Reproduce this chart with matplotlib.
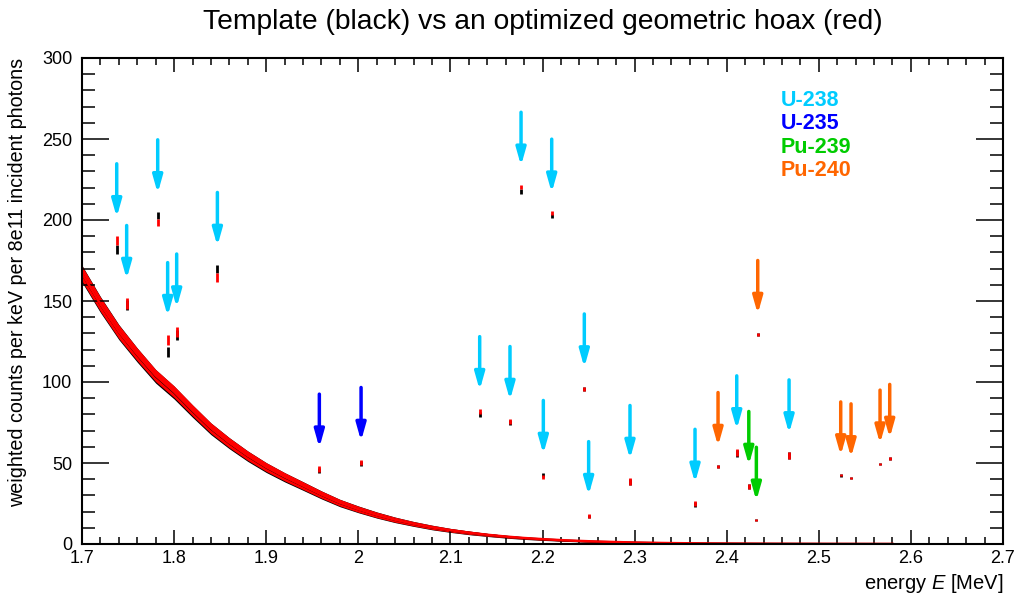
import numpy as np
import matplotlib
matplotlib.use('Agg')
import matplotlib.pyplot as plt
from matplotlib.ticker import MultipleLocator

plt.rcParams['font.family'] = ['Liberation Sans', 'DejaVu Sans']
plt.rcParams['mathtext.fontset'] = 'custom'
plt.rcParams['mathtext.rm'] = 'Liberation Sans'
plt.rcParams['mathtext.it'] = 'Liberation Sans:italic'

# continuum, every 20 keV
cont_E = [1.70, 1.72, 1.74, 1.76, 1.78, 1.80, 1.82, 1.84, 1.86, 1.88,
          1.90, 1.92, 1.94, 1.96, 1.98, 2.00, 2.02, 2.04, 2.06, 2.08,
          2.10, 2.12, 2.14, 2.16, 2.18, 2.20, 2.22, 2.24, 2.26, 2.28,
          2.30, 2.32, 2.34, 2.36, 2.38, 2.40, 2.42, 2.44, 2.46, 2.48,
          2.50, 2.52, 2.54, 2.56, 2.58]
hoax_cont = [167, 148, 131, 117, 104, 94, 82.5, 71.5, 62.5, 54.5,
             47.5, 41.5, 36, 30.5, 25.5, 21.5, 18, 15, 12.5, 10.3,
             8.5, 7, 5.7, 4.6, 3.7, 3.0, 2.4, 1.9, 1.5, 1.2,
             0.9, 0.7, 0.55, 0.42, 0.32, 0.25, 0.2, 0.15, 0.12, 0.1,
             0.08, 0.06, 0.05, 0.04, 0.03]
tmpl_cont = [166.8, 147.8, 130.8, 116.6, 103.5, 93.5, 82, 71.1, 62.2, 54.2,
             47.2, 41.2, 35.8, 30.3, 25.3, 21.4, 17.9, 14.9, 12.4, 10.2,
             8.4, 6.9, 5.6, 4.5, 3.6, 2.9, 2.3, 1.8, 1.4, 1.1,
             0.85, 0.65, 0.5, 0.4, 0.3, 0.24, 0.19, 0.15, 0.12, 0.1,
             0.08, 0.06, 0.05, 0.04, 0.03]
cont_err = [5.5, 5.2, 4.9, 4.6, 4.4, 4.2, 4.0, 3.8, 3.6, 3.4,
            3.2, 3.0, 2.8, 2.6, 2.4, 2.2, 2.0, 1.8, 1.6, 1.5,
            1.3, 1.2, 1.0, 0.9, 0.8, 0.7, 0.6, 0.5, 0.45, 0.4,
            0.35, 0.3, 0.25, 0.2, 0.2, 0.15, 0.15, 0.1, 0.1, 0.1,
            0.1, 0.1, 0.1, 0.1, 0.1]

# line bins: energy [MeV], template, hoax, error
peak_E = [1.7377, 1.7485, 1.7822, 1.7930, 1.8028, 1.8470, 1.9577, 2.0030,
          2.1318, 2.1647, 2.1767, 2.2009, 2.2100, 2.2454, 2.2501, 2.2950,
          2.3656, 2.3906, 2.4109, 2.4240, 2.4322, 2.4337, 2.4677, 2.5238,
          2.5350, 2.5665, 2.5770]
peak_tmpl = [182.0, 147.5, 203.0, 118.7, 129.0, 169.5, 45.5, 49.8,
             80.0, 75.0, 217.5, 42.5, 202.3, 95.5, 17.0, 38.3,
             24.5, 47.8, 56.0, 35.5, 14.9, 129.2, 54.5, 42.3,
             41.0, 49.4, 52.8]
peak_hoax = [187.3, 148.5, 198.7, 126.0, 131.0, 164.5, 46.3, 50.3,
             82.0, 75.5, 220.3, 41.5, 204.5, 95.7, 17.3, 38.5,
             24.8, 47.8, 56.4, 35.6, 14.9, 129.2, 54.7, 42.5,
             41.0, 49.4, 52.8]
peak_err = [2.7, 3.2, 2.2, 3.0, 3.0, 2.5, 1.7, 1.5,
            1.6, 1.5, 1.4, 1.3, 1.2, 1.3, 1.1, 2.0,
            1.6, 0.8, 2.0, 1.5, 0.6, 0.8, 2.0, 0.7,
            0.6, 0.6, 0.7]

# arrows: energy, tip height, isotope
arrow_E = [1.7377, 1.7485, 1.7822, 1.7930, 1.8028, 1.8470, 2.1318, 2.1647,
           2.1767, 2.2009, 2.2100, 2.2454, 2.2501, 2.2950, 2.3656, 2.4109,
           2.4677, 1.9577, 2.0030, 2.4240, 2.4322, 2.3906, 2.4337, 2.5238,
           2.5350, 2.5665, 2.5770]
arrow_tip = [201.7, 163.6, 216.5, 140.7, 146.0, 184.0, 95.0, 88.9,
             233.5, 55.6, 216.9, 109.0, 30.2, 52.5, 37.8, 70.8,
             68.3, 59.5, 63.6, 48.8, 26.7, 60.5, 142.0, 54.7,
             53.5, 62.0, 65.5]
arrow_iso = ['U-238'] * 17 + ['U-235'] * 2 + ['Pu-239'] * 2 + ['Pu-240'] * 6
arrow_len = 33

isotopes = ['U-238', 'U-235', 'Pu-239', 'Pu-240']
iso_colors = {'U-238': '#00ccff', 'U-235': '#0000ff',
              'Pu-239': '#00cc00', 'Pu-240': '#ff6600'}

fig = plt.figure(figsize=(10.2, 5.96), dpi=100)
ax = fig.add_axes([82/1020, 1 - 544/596, 921/1020, 486/596])

E = np.array(cont_E)
tc, hc, ce = np.array(tmpl_cont), np.array(hoax_cont), np.array(cont_err)

# template (black) under the hoax (red)
ax.fill_between(E, tc - ce*0.95, tc + ce*0.95, color='black', lw=0)
ax.plot(E, tc, color='black', lw=1.5)
ax.fill_between(E, hc - ce*0.85, hc + ce*0.85, color='red', lw=0)
ax.plot(E, hc, color='red', lw=1.8)

ax.errorbar(peak_E, peak_tmpl, yerr=peak_err, fmt='none', ecolor='black',
            elinewidth=2.0, capsize=0)
ax.errorbar(peak_E, peak_hoax, yerr=peak_err, fmt='none', ecolor='red',
            elinewidth=2.0, capsize=0)

for x, tip, iso in zip(arrow_E, arrow_tip, arrow_iso):
    ax.annotate('', xy=(x, tip), xytext=(x, tip + arrow_len),
                arrowprops=dict(arrowstyle='-|>,head_length=0.85,head_width=0.24',
                                lw=2.5, color=iso_colors[iso],
                                shrinkA=0, shrinkB=0, mutation_scale=12))

for i, iso in enumerate(isotopes):
    ax.text(0.759, 0.912 - i*0.0478, iso, transform=ax.transAxes,
            color=iso_colors[iso], fontsize=15.5, fontweight='bold',
            va='center', ha='left')

ax.set_xlim(1.7, 2.7)
ax.set_ylim(0, 300)
ax.xaxis.set_major_locator(MultipleLocator(0.1))
ax.xaxis.set_minor_locator(MultipleLocator(0.02))
ax.yaxis.set_major_locator(MultipleLocator(50))
ax.yaxis.set_minor_locator(MultipleLocator(10))
ax.xaxis.set_major_formatter(plt.FuncFormatter(lambda v, p: f'{v:g}'))

ax.tick_params(axis='both', which='both', direction='in', top=True, right=True,
               labelsize=13, width=1.1)
ax.tick_params(axis='x', which='major', length=10, pad=4)
ax.tick_params(axis='x', which='minor', length=5)
ax.tick_params(axis='y', which='major', length=19.5, pad=7)
ax.tick_params(axis='y', which='minor', length=9.7)
for sp in ax.spines.values():
    sp.set_linewidth(1.5)

ax.set_title('Template (black) vs an optimized geometric hoax (red)',
             fontsize=20.3, pad=21)
ax.set_ylabel('weighted counts per keV per 8e11 incident photons', fontsize=14.2)
ax.yaxis.set_label_coords(-0.06, 1.0)
ax.yaxis.label.set_horizontalalignment('right')
ax.set_xlabel(r'energy $E$ [MeV]', fontsize=14.5)
ax.xaxis.set_label_coords(1.0, -0.057)
ax.xaxis.label.set_horizontalalignment('right')

fig.savefig('out.png', dpi=100)
